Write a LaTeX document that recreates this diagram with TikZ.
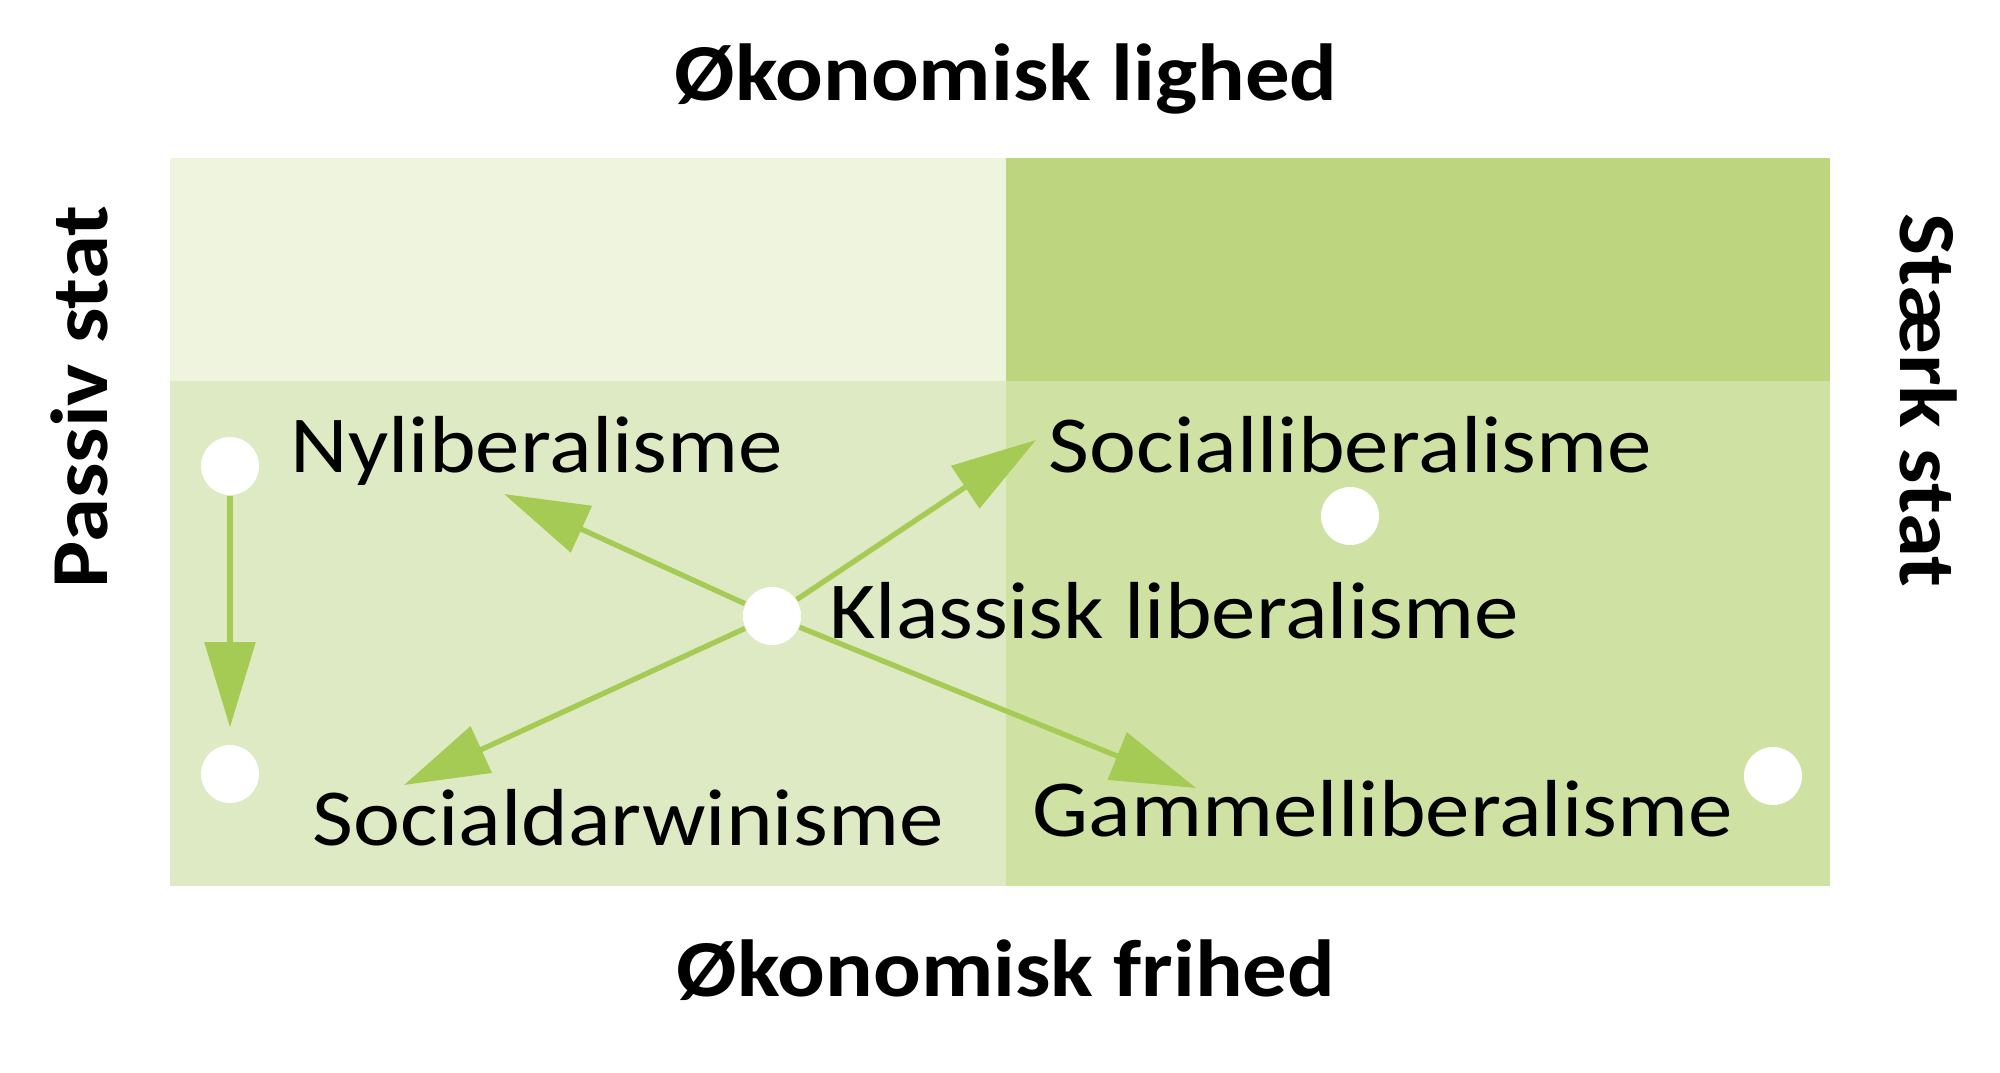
\documentclass[tikz,border=0pt]{standalone}
\usepackage{fontspec}
\setmainfont{Carlito}[FakeStretch=1.1]
\usetikzlibrary{arrows.meta}
\definecolor{qTL}{HTML}{EEF4DE}
\definecolor{qTR}{HTML}{BED57F}
\definecolor{qBL}{HTML}{DEEAC3}
\definecolor{qBR}{HTML}{D0E2A3}
\definecolor{arr}{HTML}{A5CB55}
\tikzset{
  dot/.style={circle,fill=white,minimum size=0.58cm,inner sep=0pt},
  lbl/.style={anchor=base west,inner sep=0pt,font=\fontsize{23}{26}\selectfont},
  axis/.style={inner sep=0pt,font=\fontsize{23}{26}\selectfont\bfseries},
  conn/.style={draw=arr,line width=1.5pt,-{Triangle[length=0.85cm,width=0.5cm]}}
}
\begin{document}
\begin{tikzpicture}[x=0.01cm,y=-0.01cm]
\useasboundingbox (0,0) rectangle (2000,1073);
% quadrants
\fill[qTL] (170,158) rectangle (1006,381);
\fill[qTR] (1006,158) rectangle (1830,381);
\fill[qBL] (170,381) rectangle (1006,886);
\fill[qBR] (1006,381) rectangle (1830,886);
% axis labels
\node[axis] (top) at (1006,79) {Økonomisk lighed};
\node[axis] (bot) at (1006,970) {Økonomisk frihed};
\node[axis,rotate=90] (left) at (79,397) {Passiv stat};
\node[axis,rotate=-90] (right) at (1929,400) {Stærk stat};
% dots
\node[dot] (dny) at (230,466) {};
\node[dot] (dsd) at (230,774) {};
\node[dot] (dkl) at (772,616) {};
\node[dot] (dsl) at (1350,516) {};
\node[dot] (dgl) at (1773,776) {};
% labels
\node[lbl] (ny) at (290,472) {Nyliberalisme};
\node[lbl] (sl) at (1048,472) {Socialliberalisme};
\node[lbl] (kl) at (829,638) {Klassisk liberalisme};
\node[lbl] (sd) at (312,845) {Socialdarwinisme};
\node[lbl] (gl) at (1032,836) {Gammelliberalisme};
% arrow tips
\coordinate (tny) at (504,494);
\coordinate (tsl) at (1036,440);
\coordinate (tsd) at (404,785);
\coordinate (tgl) at (1196,788);
% arrows
\draw[conn] (dny) -- ([yshift=0.17cm]dsd.north);
\draw[conn] (dkl) -- (tny);
\draw[conn] (dkl) -- (tsl);
\draw[conn] (dkl) -- (tsd);
\draw[conn] (dkl) -- (tgl);
\end{tikzpicture}
\end{document}
